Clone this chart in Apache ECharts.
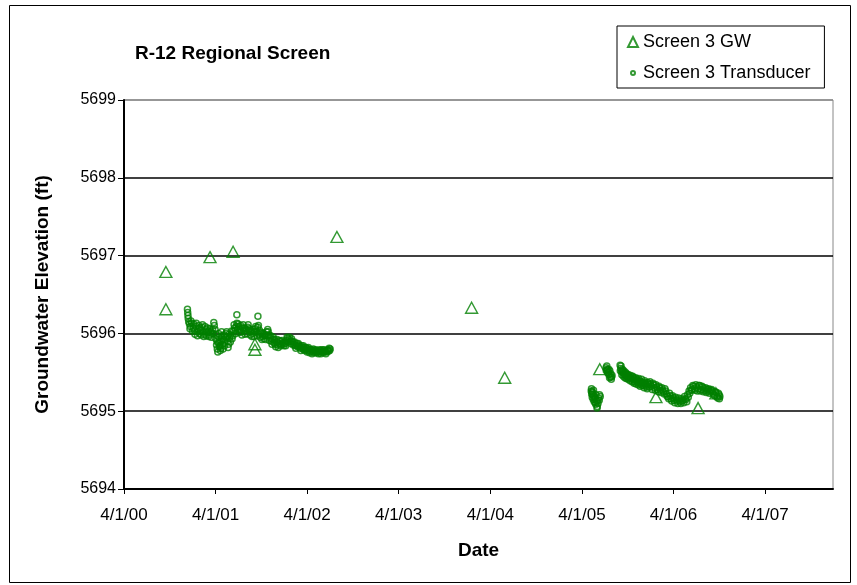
<!DOCTYPE html>
<html>
<head>
<meta charset="utf-8">
<script src="https://cdn.jsdelivr.net/npm/echarts@6/dist/echarts.min.js"></script>
<style>html,body{margin:0;padding:0;background:#fff;}#c{width:857px;height:585px;}</style>
</head>
<body>
<div id="c"></div>
<script>
// ---- data ----
var tickLabels = ['4/1/00','4/1/01','4/1/02','4/1/03','4/1/04','4/1/05','4/1/06','4/1/07'];
var axisMinDate = '2000-04-01';
var axisMaxDate = '2007-12-28';
var yMin = 5694, yMax = 5699, yStep = 1;

var gwDates = ['2000-09-15','2000-09-15','2001-03-10','2001-06-10','2001-09-05','2001-09-05','2002-07-29','2004-01-17','2004-05-28','2005-06-11','2006-01-21','2006-07-08','2006-09-17'];
var gwValues = [5696.79,5696.31,5696.98,5697.05,5695.86,5695.79,5697.24,5696.33,5695.43,5695.54,5695.18,5695.04,5695.23];

// transducer readings, 2000-2002 record
var tdDatesA = [
'2000-12-10','2000-12-11','2000-12-12','2000-12-13','2000-12-15','2000-12-18','2000-12-22','2000-12-27','2001-01-02','2001-01-07',
'2001-01-12','2001-01-17','2001-01-22','2001-01-27','2001-02-01','2001-02-06','2001-02-11','2001-02-16','2001-02-21','2001-02-26',
'2001-03-03','2001-03-08','2001-03-13','2001-03-18','2001-03-22','2001-03-27','2001-03-30','2001-04-02','2001-04-05','2001-04-08',
'2001-04-11','2001-04-14','2001-04-17','2001-04-20','2001-04-23','2001-04-26','2001-04-29','2001-05-03','2001-05-07','2001-05-11',
'2001-05-15','2001-05-19','2001-05-23','2001-05-27','2001-06-01','2001-06-06','2001-06-11','2001-06-16','2001-06-21','2001-06-25',
'2001-06-25','2001-06-28','2001-07-03','2001-07-08','2001-07-13','2001-07-18','2001-07-23','2001-07-28','2001-08-02','2001-08-07',
'2001-08-12','2001-08-17','2001-08-22','2001-08-27','2001-09-01','2001-09-06','2001-09-11','2001-09-16','2001-09-17','2001-09-21',
'2001-09-26','2001-10-01','2001-10-06','2001-10-11','2001-10-16','2001-10-21','2001-10-26','2001-10-31','2001-11-05','2001-11-10',
'2001-11-15','2001-11-20','2001-11-25','2001-11-30','2001-12-05','2001-12-10','2001-12-15','2001-12-20','2001-12-25','2001-12-30',
'2002-01-04','2002-01-09','2002-01-14','2002-01-19','2002-01-24','2002-01-29','2002-02-03','2002-02-08','2002-02-13','2002-02-18',
'2002-02-23','2002-02-28','2002-03-05','2002-03-10','2002-03-15','2002-03-20','2002-03-25','2002-03-30','2002-04-04','2002-04-09',
'2002-04-14','2002-04-19','2002-04-24','2002-04-29','2002-05-04','2002-05-09','2002-05-14','2002-05-19','2002-05-24','2002-05-29',
'2002-06-03','2002-06-08','2002-06-13','2002-06-18','2002-06-23','2002-06-28','2002-07-02',
'2000-12-20','2000-12-24','2000-12-30','2001-01-04','2001-01-09','2001-01-14','2001-01-19','2001-01-24','2001-01-29','2001-02-03',
'2001-02-08','2001-02-13','2001-02-18','2001-02-23','2001-02-28','2001-03-05','2001-03-10','2001-03-15','2001-03-20','2001-03-25',
'2001-04-04','2001-04-07','2001-04-10','2001-04-13','2001-04-16','2001-04-19','2001-04-22','2001-04-25','2001-04-28','2001-05-01',
'2001-05-05','2001-05-09','2001-05-13','2001-05-17','2001-05-21','2001-05-25','2001-05-30','2001-06-04','2001-06-09','2001-06-14',
'2001-06-19','2001-06-23','2001-06-30','2001-07-05','2001-07-10','2001-07-15','2001-07-20','2001-07-25','2001-07-30','2001-08-04',
'2001-08-09','2001-08-14','2001-08-19','2001-08-24','2001-08-29','2001-09-03','2001-09-08','2001-09-13','2001-09-19','2001-09-23',
'2001-09-28','2001-10-03','2001-10-08','2001-10-13','2001-10-18','2001-10-23','2001-10-28','2001-11-02','2001-11-07','2001-11-12',
'2001-11-17','2001-11-22','2001-11-27','2001-12-02','2001-12-07','2001-12-12','2001-12-17','2001-12-22','2001-12-27','2002-01-01',
'2002-01-06','2002-01-11','2002-01-16','2002-01-21','2002-01-26','2002-01-31','2002-02-05','2002-02-10','2002-02-15','2002-02-20',
'2002-02-25','2002-03-02','2002-03-07','2002-03-12','2002-03-17','2002-03-22','2002-03-27','2002-04-01','2002-04-06','2002-04-11',
'2002-04-16','2002-04-21','2002-04-26','2002-05-01','2002-05-06','2002-05-11','2002-05-16','2002-05-21','2002-05-26','2002-05-31',
'2002-06-05','2002-06-10','2002-06-15','2002-06-20','2002-06-25','2002-06-30'
];
var tdValuesA = [
5696.31,5696.27,5696.23,5696.19,5696.15,5696.12,5696.09,5696.13,5696.07,5696.04,
5696.09,5696.02,5696.06,5696.00,5696.04,5696.08,5696.02,5695.99,5696.05,5696.01,
5696.03,5695.98,5696.02,5696.00,5696.00,5696.10,5696.05,5695.93,5695.85,5695.80,
5695.88,5695.95,5695.83,5695.78,5695.90,5695.97,5695.86,5695.92,5695.84,5695.95,
5696.02,5695.90,5695.86,5695.94,5695.98,5695.93,5696.03,5696.07,5696.00,5696.24,
5696.13,5696.05,5696.09,5696.05,5696.02,5696.07,5696.03,5695.99,5696.04,5696.08,
5696.03,5695.98,5696.02,5696.00,5695.96,5696.06,5696.02,5696.08,5696.22,5695.99,
5695.95,5696.01,5695.96,5695.93,5695.97,5696.02,5696.05,5695.98,5695.94,5695.90,
5695.92,5695.88,5695.86,5695.89,5695.85,5695.87,5695.90,5695.86,5695.88,5695.84,
5695.87,5695.91,5695.94,5695.92,5695.90,5695.93,5695.89,5695.86,5695.84,5695.87,
5695.83,5695.85,5695.81,5695.84,5695.80,5695.82,5695.79,5695.81,5695.78,5695.80,
5695.77,5695.79,5695.76,5695.78,5695.77,5695.75,5695.77,5695.76,5695.78,5695.76,
5695.77,5695.79,5695.77,5695.76,5695.79,5695.81,5695.80,
5696.06,5696.16,5696.03,5696.12,5695.99,5696.13,5695.97,5696.10,5696.07,5695.98,
5696.11,5695.96,5696.09,5695.97,5696.07,5695.96,5696.06,5695.95,5696.05,5696.14,
5695.98,5695.90,5695.76,5696.00,5695.89,5695.84,5695.81,5696.02,5695.92,5695.80,
5695.98,5695.89,5696.00,5695.96,5695.82,5695.99,5695.89,5696.03,5695.97,5696.11,
5696.04,5696.09,5696.12,5696.01,5696.10,5695.98,5696.11,5696.07,5696.06,5696.00,
5696.11,5696.06,5696.04,5695.96,5696.05,5696.02,5696.09,5695.97,5696.10,5696.04,
5696.00,5695.92,5696.00,5695.98,5695.92,5695.98,5696.02,5695.91,5695.97,5695.86,
5695.95,5695.92,5695.83,5695.92,5695.82,5695.91,5695.84,5695.91,5695.86,5695.89,
5695.84,5695.95,5695.89,5695.95,5695.87,5695.90,5695.85,5695.89,5695.81,5695.84,
5695.87,5695.83,5695.78,5695.82,5695.84,5695.78,5695.82,5695.76,5695.82,5695.75,
5695.79,5695.74,5695.80,5695.75,5695.79,5695.77,5695.74,5695.79,5695.74,5695.79,
5695.75,5695.77,5695.74,5695.78,5695.77,5695.78
];

// transducer readings, 2005-2006 record
var tdDatesB = [
'2005-05-08','2005-05-10','2005-05-12','2005-05-14','2005-05-16','2005-05-18','2005-05-20','2005-05-23','2005-05-26','2005-05-29',
'2005-06-01','2005-06-04','2005-06-07','2005-06-10','2005-06-13','2005-07-06','2005-07-09','2005-07-12','2005-07-15','2005-07-18',
'2005-07-21','2005-07-24','2005-07-27','2005-07-30','2005-08-31','2005-09-03','2005-09-06','2005-09-09','2005-09-12','2005-09-15',
'2005-09-18','2005-09-21','2005-09-24','2005-09-27','2005-09-30','2005-10-04','2005-10-08','2005-10-12','2005-10-16','2005-10-20',
'2005-10-24','2005-10-28','2005-11-01','2005-11-05','2005-11-09','2005-11-13','2005-11-17','2005-11-21','2005-11-25','2005-11-29',
'2005-12-03','2005-12-07','2005-12-11','2005-12-15','2005-12-19','2005-12-23','2005-12-28','2006-01-03','2006-01-09','2006-01-15',
'2006-01-21','2006-01-27','2006-02-02','2006-02-08','2006-02-14','2006-02-20','2006-02-26','2006-03-04','2006-03-10','2006-03-16',
'2006-03-22','2006-03-28','2006-04-03','2006-04-09','2006-04-15','2006-04-21','2006-04-27','2006-05-03','2006-05-09','2006-05-15',
'2006-05-21','2006-05-27','2006-06-02','2006-06-08','2006-06-14','2006-06-20','2006-06-26','2006-07-02','2006-07-08','2006-07-14',
'2006-07-20','2006-07-26','2006-08-01','2006-08-07','2006-08-13','2006-08-19','2006-08-25','2006-08-31','2006-09-06','2006-09-12',
'2006-09-18','2006-09-24','2006-09-30','2006-10-03',
'2005-05-09','2005-05-11','2005-05-13','2005-05-17','2005-05-21','2005-05-24','2005-05-27','2005-05-31','2005-06-03','2005-06-09',
'2005-07-07','2005-07-10','2005-07-13','2005-07-17','2005-07-20','2005-07-25','2005-07-28','2005-09-01','2005-09-04','2005-09-07',
'2005-09-10','2005-09-13','2005-09-16','2005-09-19','2005-09-22','2005-09-25','2005-09-28','2005-10-02','2005-10-06','2005-10-10',
'2005-10-14','2005-10-18','2005-10-22','2005-10-26','2005-10-30','2005-11-03','2005-11-07','2005-11-11','2005-11-15','2005-11-19',
'2005-11-23','2005-11-27','2005-12-01','2005-12-05','2005-12-09','2005-12-13','2005-12-17','2005-12-21','2005-12-25','2005-12-31',
'2006-01-06','2006-01-12','2006-01-18','2006-01-24','2006-01-30','2006-02-05','2006-02-11','2006-02-17','2006-02-23','2006-03-01',
'2006-03-07','2006-03-13','2006-03-19','2006-03-25','2006-03-31','2006-04-06','2006-04-12','2006-04-18','2006-04-24','2006-04-30',
'2006-05-06','2006-05-12','2006-05-18','2006-05-24','2006-05-30','2006-06-05','2006-06-11','2006-06-17','2006-06-23','2006-06-29',
'2006-07-05','2006-07-11','2006-07-17','2006-07-23','2006-07-29','2006-08-04','2006-08-10','2006-08-16','2006-08-22','2006-08-28',
'2006-09-03','2006-09-09','2006-09-15','2006-09-21','2006-09-27','2006-10-01'
];
var tdValuesB = [
5695.26,5695.22,5695.18,5695.24,5695.15,5695.20,5695.12,5695.16,5695.09,5695.13,
5695.06,5695.10,5695.17,5695.21,5695.19,5695.56,5695.58,5695.53,5695.50,5695.47,
5695.52,5695.44,5695.41,5695.46,5695.59,5695.55,5695.51,5695.54,5695.49,5695.52,
5695.47,5695.50,5695.45,5695.48,5695.44,5695.47,5695.43,5695.46,5695.41,5695.45,
5695.42,5695.38,5695.43,5695.40,5695.37,5695.42,5695.39,5695.35,5695.41,5695.37,
5695.33,5695.39,5695.35,5695.31,5695.37,5695.34,5695.38,5695.32,5695.36,5695.30,
5695.34,5695.28,5695.32,5695.27,5695.30,5695.25,5695.29,5695.22,5695.19,5695.23,
5695.16,5695.20,5695.14,5695.18,5695.13,5695.17,5695.12,5695.16,5695.14,5695.19,
5695.15,5695.21,5695.26,5695.30,5695.28,5695.32,5695.27,5695.31,5695.29,5695.33,
5695.28,5695.31,5695.27,5695.30,5695.26,5695.29,5695.25,5695.28,5695.23,5695.20,
5695.24,5695.17,5695.21,5695.19,
5695.29,5695.25,5695.21,5695.27,5695.18,5695.11,5695.21,5695.04,5695.14,5695.14,
5695.52,5695.54,5695.49,5695.54,5695.43,5695.48,5695.44,5695.52,5695.58,5695.47,
5695.51,5695.45,5695.49,5695.43,5695.47,5695.42,5695.46,5695.41,5695.44,5695.39,
5695.43,5695.38,5695.44,5695.36,5695.40,5695.35,5695.41,5695.34,5695.38,5695.32,
5695.38,5695.33,5695.36,5695.30,5695.37,5695.33,5695.29,5695.36,5695.31,5695.35,
5695.28,5695.34,5695.27,5695.31,5695.25,5695.30,5695.24,5695.27,5695.22,5695.26,
5695.19,5695.16,5695.20,5695.13,5695.17,5695.11,5695.15,5695.10,5695.14,5695.10,
5695.13,5695.11,5695.16,5695.12,5695.18,5695.23,5695.27,5695.33,5695.29,5695.34,
5695.26,5695.33,5695.26,5695.32,5695.25,5695.29,5695.24,5695.28,5695.23,5695.27,
5695.26,5695.21,5695.25,5695.19,5695.23,5695.16
];

// ---- build ----
function toMs(s){ return Date.parse(s + 'T00:00:00Z'); }
function labelToMs(l){ var p = l.split('/'); return Date.UTC(2000 + parseInt(p[2],10), parseInt(p[0],10)-1, parseInt(p[1],10)); }
var tickVals = tickLabels.map(labelToMs);
var tdDates = tdDatesA.concat(tdDatesB);
var tdValues = tdValuesA.concat(tdValuesB);
var FONT = '"Liberation Sans", Arial, sans-serif';
var GREEN = '#008000';

var chart = echarts.init(document.getElementById('c'), null, {renderer:'canvas'});
chart.setOption({
  animation: false,
  backgroundColor: '#fff',
  textStyle: {fontFamily: FONT, color: '#000'},
  title: {
    text: 'R-12 Regional Screen', left: 135, top: 44, padding: 0,
    textStyle: {fontFamily: FONT, fontSize: 19, fontWeight: 'bold', color: '#000'}
  },
  legend: {
    orient: 'vertical', left: 617, top: 26,
    backgroundColor: '#fff', borderColor: '#000', borderWidth: 1,
    padding: [7, 14, 6, 10], itemGap: 13, itemWidth: 10, itemHeight: 10,
    textStyle: {fontFamily: FONT, fontSize: 18, color: '#000'},
    selectedMode: false,
    data: [
      {name: 'Screen 3 GW', icon: 'triangle'},
      {name: 'Screen 3 Transducer', icon: 'path://M0,0M10,10M3,5a2,2 0 1,0 4,0a2,2 0 1,0 -4,0Z'}
    ]
  },
  graphic: [{
    type: 'rect', silent: true, z: -10,
    shape: {x: 9.5, y: 5.5, width: 841, height: 577},
    style: {fill: null, stroke: '#000', lineWidth: 1}
  }],
  grid: {left: 124, right: 24, top: 100, bottom: 96, show: true, borderColor: '#888', borderWidth: 1, backgroundColor: 'transparent'},
  xAxis: {
    type: 'value', min: toMs(axisMinDate), max: toMs(axisMaxDate),
    axisLine: {show: true, onZero: false, lineStyle: {color: '#000', width: 2}},
    axisTick: {show: true, customValues: tickVals, length: 5, lineStyle: {color: '#000', width: 1}},
    axisLabel: {
      customValues: tickVals, fontSize: 17, color: '#000', margin: 18, fontFamily: FONT,
      formatter: function(v){ var i = tickVals.indexOf(v); return i >= 0 ? tickLabels[i] : ''; }
    },
    splitLine: {show: false},
    name: 'Date', nameLocation: 'middle', nameGap: 52,
    nameTextStyle: {fontFamily: FONT, fontSize: 19, fontWeight: 'bold', color: '#000'}
  },
  yAxis: {
    type: 'value', min: yMin, max: yMax, interval: yStep,
    axisLine: {show: true, onZero: false, lineStyle: {color: '#000', width: 2}},
    axisTick: {show: true, length: 6, lineStyle: {color: '#000', width: 1}},
    axisLabel: {fontSize: 16, color: '#000', margin: 8, fontFamily: FONT,
      formatter: function(v){ return String(Math.round(v)); }},
    splitLine: {show: true, lineStyle: {color: ['#000','#000','#000','#000','#000','#888'], width: 1.5}},
    name: 'Groundwater Elevation (ft)', nameLocation: 'middle', nameGap: 72,
    nameTextStyle: {fontFamily: FONT, fontSize: 19, fontWeight: 'bold', color: '#000'}
  },
  series: [
    {
      name: 'Screen 3 GW', type: 'scatter', symbol: 'triangle', symbolSize: [12, 11],
      itemStyle: {color: 'rgba(0,0,0,0)', borderColor: GREEN, borderWidth: 1.4},
      emphasis: {disabled: true}, z: 3,
      data: gwDates.map(function(d, i){ return [toMs(d), gwValues[i]]; })
    },
    {
      name: 'Screen 3 Transducer', type: 'scatter', symbol: 'circle', symbolSize: 6,
      itemStyle: {color: 'rgba(0,0,0,0)', borderColor: GREEN, borderWidth: 1.5},
      emphasis: {disabled: true}, z: 2,
      data: tdDates.map(function(d, i){ return [toMs(d), tdValues[i]]; })
    }
  ]
});
</script>
</body>
</html>
